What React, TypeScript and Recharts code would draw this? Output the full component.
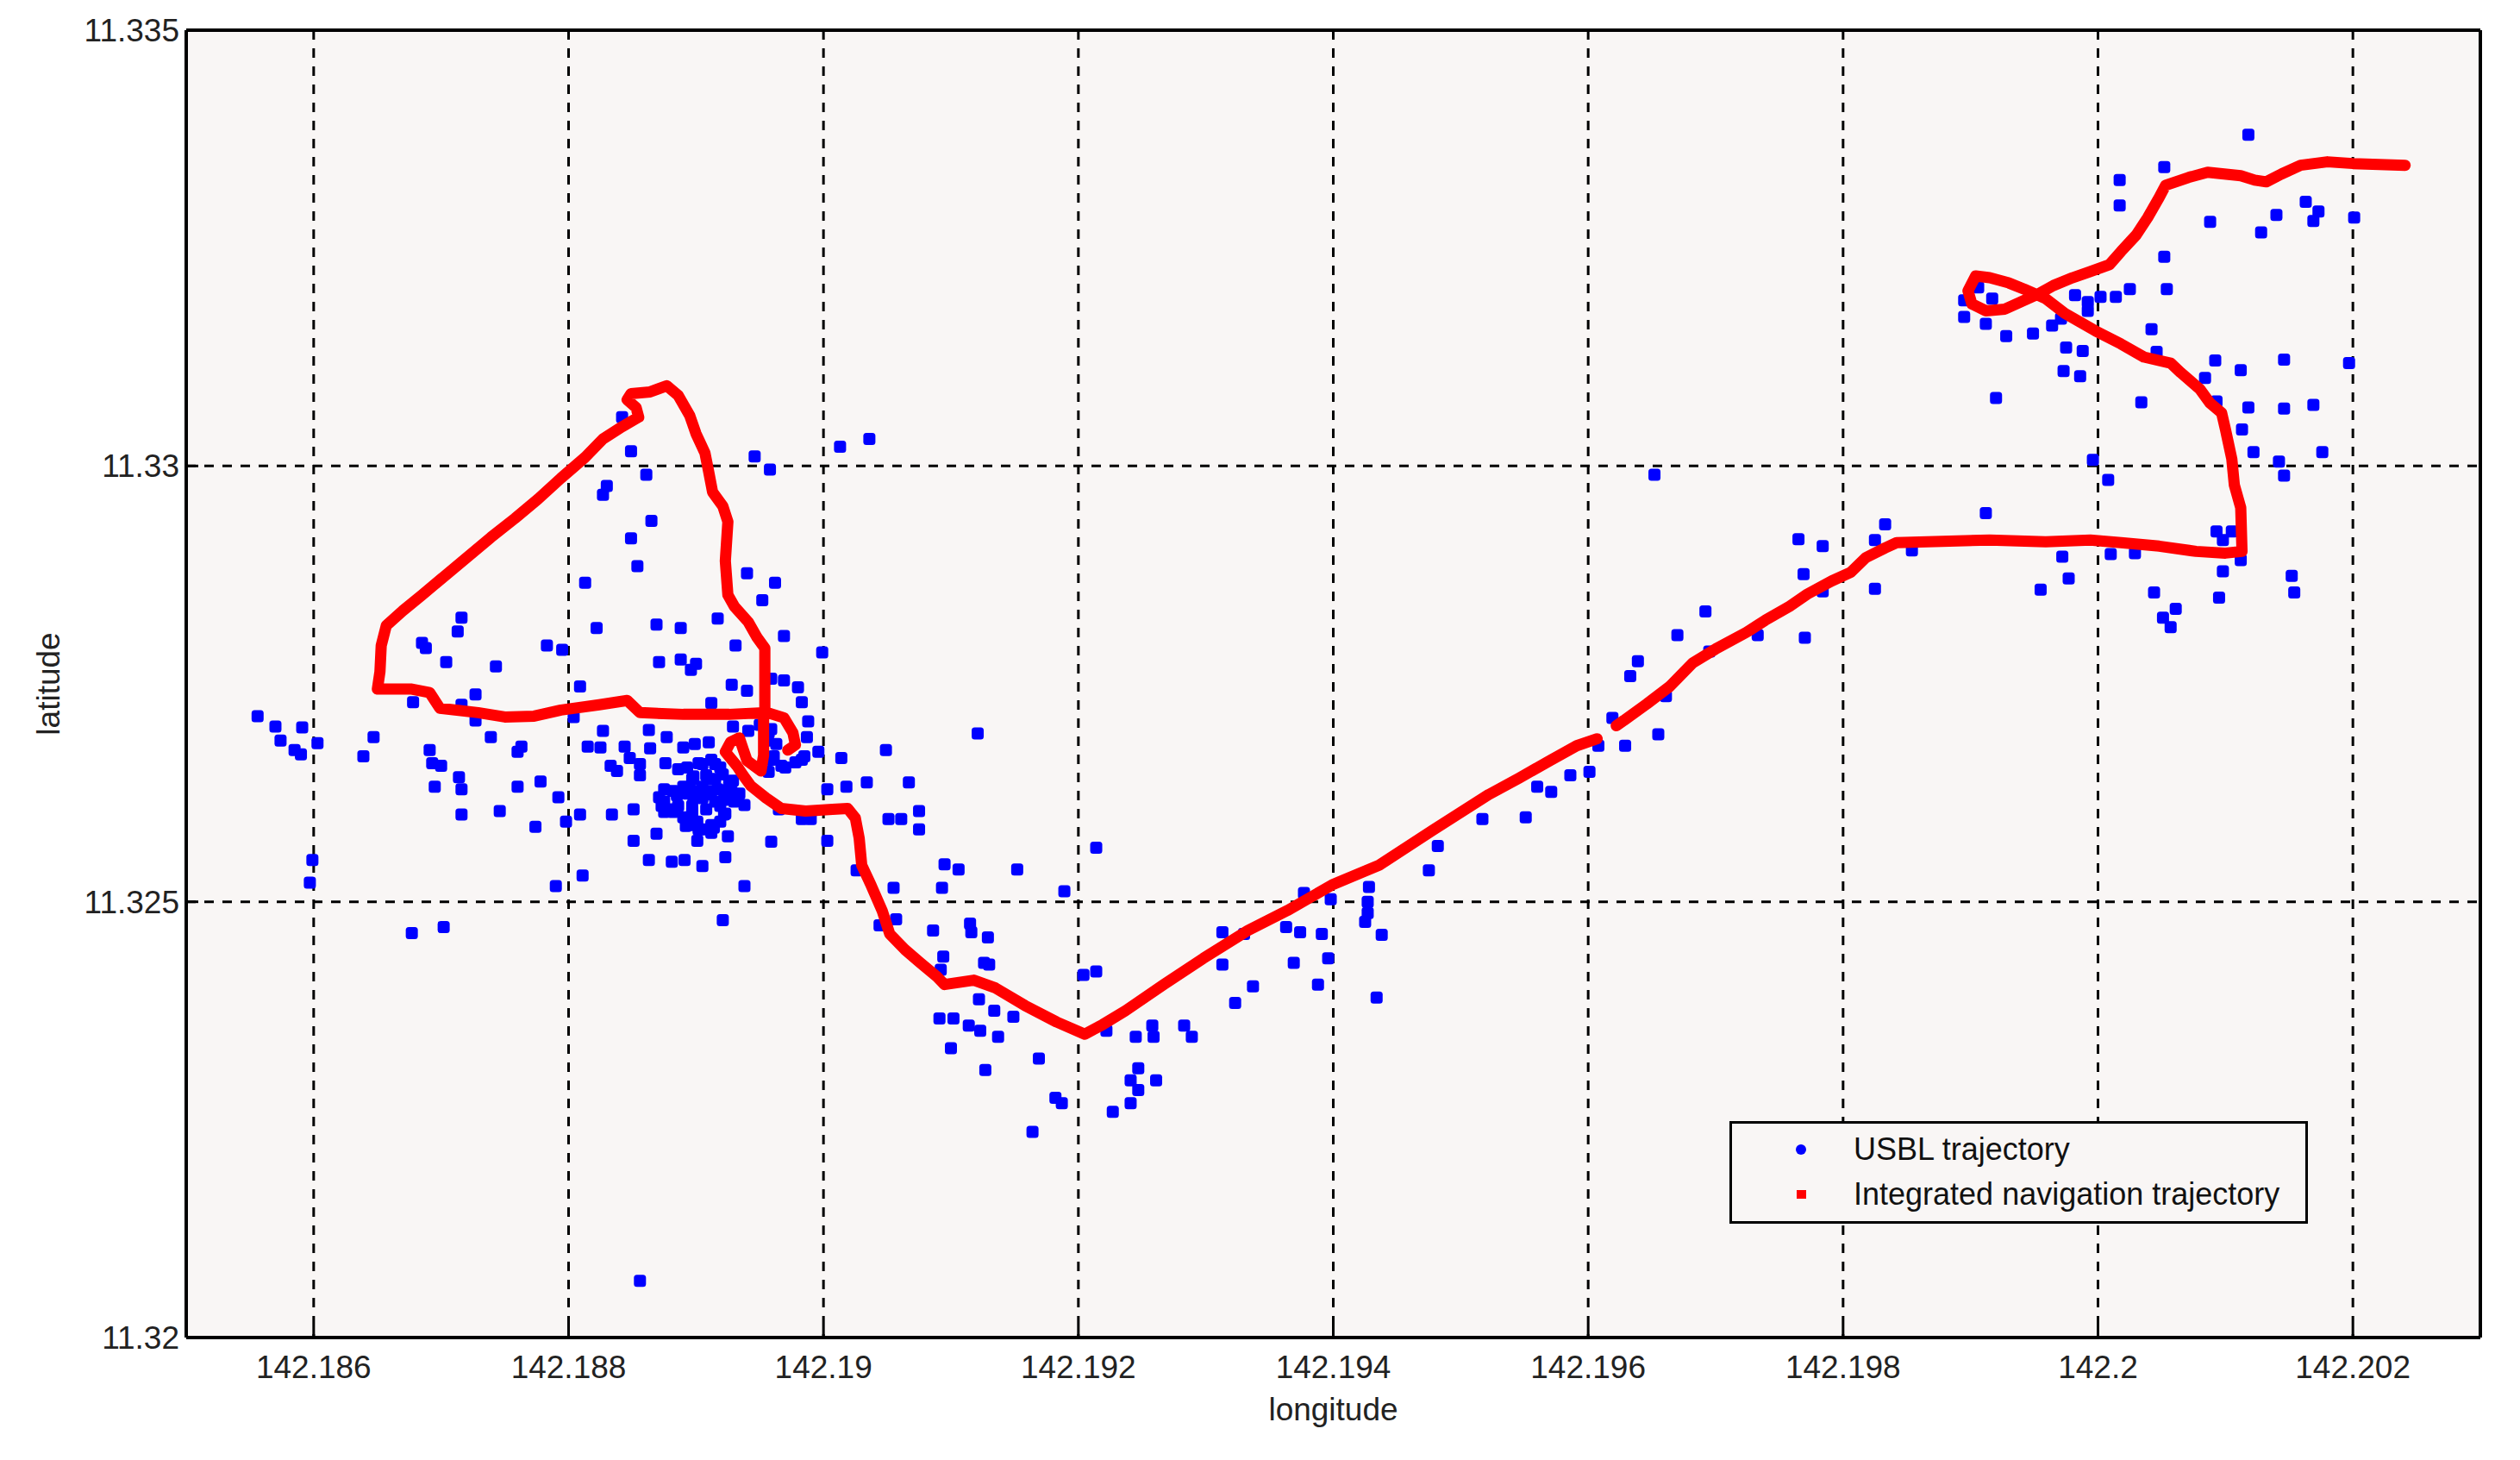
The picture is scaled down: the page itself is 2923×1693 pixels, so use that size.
import React from "react";
import { ComposedChart, Scatter, XAxis, YAxis, CartesianGrid, Legend, Label } from "recharts";

const X_DOMAIN = [142.185, 142.203];
const Y_DOMAIN = [11.32, 11.335];
const X_TICKS = [142.186, 142.188, 142.19, 142.192, 142.194, 142.196, 142.198, 142.2, 142.202];
const Y_TICKS = [11.32, 11.325, 11.33, 11.335];

// USBL fixes, [longitude, latitude]
const USBL: [number, number][] = [
  [142.18842, 11.33056], [142.18849, 11.33017], [142.19013, 11.33022], [142.19036, 11.33031],
  [142.18946, 11.33011], [142.18958, 11.32996], [142.18861, 11.3299], [142.1883, 11.32977],
  [142.18827, 11.32967], [142.18865, 11.32937], [142.18849, 11.32917], [142.18854, 11.32885],
  [142.18813, 11.32866], [142.1894, 11.32877], [142.18962, 11.32866], [142.18952, 11.32846],
  [142.18917, 11.32825], [142.18969, 11.32805], [142.18716, 11.32826], [142.18713, 11.3281],
  [142.18822, 11.32814], [142.18869, 11.32818], [142.18888, 11.32814], [142.18931, 11.32794],
  [142.18999, 11.32786], [142.18685, 11.32797], [142.18688, 11.32791], [142.18783, 11.32794],
  [142.18795, 11.32789], [142.18704, 11.32775], [142.18743, 11.3277], [142.18871, 11.32775],
  [142.18888, 11.32778], [142.189, 11.32773], [142.18896, 11.32766], [142.18809, 11.32747],
  [142.18928, 11.32749], [142.1894, 11.32742], [142.18959, 11.32756], [142.18969, 11.32754],
  [142.1898, 11.32746], [142.18727, 11.32738], [142.18678, 11.32729], [142.18983, 11.32729],
  [142.18716, 11.32726], [142.18912, 11.32728], [142.18804, 11.32712], [142.18727, 11.32708],
  [142.18988, 11.32707], [142.18556, 11.32713], [142.1857, 11.32701], [142.18591, 11.327],
  [142.18574, 11.32685], [142.18585, 11.32674], [142.1859, 11.32669], [142.18603, 11.32682],
  [142.18647, 11.32689], [142.18639, 11.32667], [142.18739, 11.32689], [142.18763, 11.32678],
  [142.1876, 11.32672], [142.18691, 11.32674], [142.18693, 11.32659], [142.187, 11.32656],
  [142.18827, 11.32696], [142.18863, 11.32697], [142.18877, 11.32689], [142.18929, 11.32701],
  [142.18941, 11.32696], [142.18957, 11.32694], [142.18987, 11.32689], [142.18815, 11.32678],
  [142.18825, 11.32677], [142.18844, 11.32678], [142.18864, 11.32676], [142.1889, 11.32677],
  [142.18899, 11.32681], [142.1891, 11.32683], [142.18996, 11.32672], [142.19014, 11.32665],
  [142.19049, 11.32674], [142.18848, 11.32665], [142.18856, 11.32658], [142.18876, 11.32659],
  [142.18886, 11.32652], [142.18833, 11.32656], [142.18838, 11.3265], [142.18856, 11.32645],
  [142.18967, 11.32656], [142.18983, 11.32663], [142.18959, 11.32663], [142.18714, 11.32643],
  [142.18716, 11.32629], [142.18695, 11.32632], [142.1876, 11.32632], [142.18778, 11.32638],
  [142.18792, 11.3262], [142.19003, 11.32629], [142.19018, 11.32632], [142.19034, 11.32637],
  [142.19067, 11.32637], [142.18716, 11.326], [142.18746, 11.32604], [142.18809, 11.326],
  [142.18798, 11.32592], [142.18834, 11.326], [142.18851, 11.32606], [142.18774, 11.32586],
  [142.18938, 11.32611], [142.18965, 11.32606], [142.18983, 11.32595], [142.1899, 11.32595],
  [142.19051, 11.32595], [142.19061, 11.32595], [142.19075, 11.32604], [142.19075, 11.32583],
  [142.18851, 11.3257], [142.18869, 11.32578], [142.18901, 11.3257], [142.18925, 11.32575],
  [142.18959, 11.32569], [142.19003, 11.3257], [142.18863, 11.32548], [142.18881, 11.32546],
  [142.18891, 11.32548], [142.18905, 11.32541], [142.18923, 11.32551], [142.18599, 11.32548],
  [142.18597, 11.32522], [142.18811, 11.3253], [142.1879, 11.32518], [142.18938, 11.32518],
  [142.19026, 11.32536], [142.19055, 11.32516], [142.19093, 11.32516], [142.19095, 11.32543],
  [142.18921, 11.32479], [142.18702, 11.32471], [142.18677, 11.32464], [142.19086, 11.32467],
  [142.19044, 11.32473], [142.19057, 11.3248], [142.18856, 11.32065],
  // dense cluster
  [142.18893, 11.32654], [142.18905, 11.32658], [142.18912, 11.32663], [142.18919, 11.32654],
  [142.18897, 11.32641], [142.18908, 11.32645], [142.18915, 11.32641], [142.18926, 11.32636],
  [142.189, 11.32627], [142.18912, 11.32627], [142.18923, 11.32627], [142.18893, 11.32624],
  [142.18905, 11.32619], [142.18915, 11.32615], [142.18882, 11.32627], [142.18875, 11.32615],
  [142.18886, 11.3261], [142.18897, 11.3261], [142.18908, 11.32606], [142.18919, 11.3261],
  [142.18923, 11.32601], [142.18879, 11.32606], [142.1889, 11.32597], [142.18901, 11.32592],
  [142.18912, 11.32588], [142.18919, 11.32592], [142.18905, 11.32583], [142.18897, 11.32603],
  [142.18912, 11.32579], [142.1893, 11.32615], [142.18934, 11.32624], [142.1889, 11.32632],
  [142.18875, 11.32603], [142.18895, 11.32588],
  [142.18902, 11.32659], [142.18915, 11.32658], [142.18898, 11.32644], [142.18909, 11.32641],
  [142.18921, 11.32646], [142.18929, 11.32639], [142.18895, 11.32629], [142.18905, 11.32632],
  [142.18917, 11.32629], [142.18928, 11.32626], [142.18875, 11.32629], [142.18885, 11.32622],
  [142.18898, 11.3262], [142.1891, 11.32623], [142.18922, 11.32617], [142.18932, 11.3262],
  [142.18873, 11.3261], [142.18882, 11.32603], [142.18897, 11.326], [142.18922, 11.326],
  [142.18892, 11.32587], [142.18902, 11.32583], [142.18914, 11.32585], [142.18871, 11.3262],
  [142.1895, 11.32703], [142.18959, 11.32698], [142.18956, 11.32685], [142.18963, 11.32681],
  [142.18961, 11.32667], [142.1897, 11.32654], [142.18978, 11.3266], [142.18985, 11.32667],
  [142.18957, 11.32649],
  // south-east of the cluster
  [142.19121, 11.32693], [142.19214, 11.32562], [142.19106, 11.32537], [142.19152, 11.32537],
  [142.19189, 11.32512], [142.19115, 11.32475], [142.19116, 11.32465], [142.19129, 11.32459],
  [142.19094, 11.32437], [142.19092, 11.32422], [142.19126, 11.3243], [142.1913, 11.32428],
  [142.19204, 11.32416], [142.19214, 11.3242], [142.19122, 11.32388], [142.19134, 11.32375],
  [142.19149, 11.32368], [142.19091, 11.32366], [142.19102, 11.32366], [142.19114, 11.32358],
  [142.19123, 11.32352], [142.19137, 11.32345], [142.19222, 11.32352], [142.19245, 11.32345],
  [142.19258, 11.32358], [142.19259, 11.32345], [142.19283, 11.32358], [142.19289, 11.32345],
  [142.191, 11.32332], [142.19169, 11.3232], [142.19127, 11.32307], [142.19247, 11.32309],
  [142.19241, 11.32295], [142.19261, 11.32295], [142.19247, 11.32284], [142.19182, 11.32275],
  [142.19187, 11.32269], [142.19241, 11.32269], [142.19227, 11.32259], [142.19164, 11.32236],
  [142.19313, 11.32465], [142.1933, 11.32463], [142.19313, 11.32428], [142.19337, 11.32403],
  [142.19323, 11.32384], [142.19363, 11.32471], [142.19369, 11.3243],
  [142.19374, 11.32465], [142.19391, 11.32463], [142.19396, 11.32435], [142.19388, 11.32405],
  [142.19377, 11.3251], [142.19398, 11.32503], [142.19428, 11.32517], [142.19427, 11.325],
  [142.19427, 11.32487], [142.19425, 11.32477], [142.19438, 11.32462], [142.19434, 11.3239],
  [142.19475, 11.32536], [142.19482, 11.32564], [142.19517, 11.32595], [142.19551, 11.32597],
  [142.1956, 11.32632],
  // middle leg
  [142.19652, 11.3299], [142.19765, 11.32916], [142.19784, 11.32908], [142.19833, 11.32933],
  [142.19825, 11.32915], [142.19854, 11.32903], [142.19912, 11.32946], [142.19972, 11.32896],
  [142.19977, 11.32871], [142.19955, 11.32858], [142.19769, 11.32876], [142.19825, 11.32859],
  [142.19784, 11.32856], [142.19692, 11.32833], [142.1967, 11.32806], [142.1977, 11.32803],
  [142.19733, 11.32806], [142.19695, 11.32787], [142.19639, 11.32776], [142.19633, 11.32759],
  [142.19619, 11.32711], [142.19661, 11.32736], [142.19655, 11.32692], [142.19629, 11.32679],
  [142.19608, 11.32679], [142.19601, 11.32649], [142.19586, 11.32645], [142.19571, 11.32626],
  // north-east area
  [142.20118, 11.3338], [142.20052, 11.33343], [142.20017, 11.33328], [142.20017, 11.33299],
  [142.20088, 11.3328], [142.20128, 11.33268], [142.2014, 11.33288], [142.20163, 11.33303],
  [142.20173, 11.33292], [142.20169, 11.33281], [142.20201, 11.33285], [142.20052, 11.3324],
  [142.20054, 11.33203], [142.20025, 11.33203], [142.20014, 11.33194], [142.20002, 11.33194],
  [142.19992, 11.33188], [142.19992, 11.33178], [142.19982, 11.33196], [142.19906, 11.33205],
  [142.19917, 11.33192], [142.19895, 11.3319], [142.19895, 11.33171], [142.19912, 11.33163],
  [142.19928, 11.33149], [142.19949, 11.33152], [142.19964, 11.33161], [142.19971, 11.33169],
  [142.19975, 11.33136], [142.19988, 11.33132], [142.19973, 11.33109], [142.19986, 11.33103],
  [142.1992, 11.33078], [142.20042, 11.33157], [142.20046, 11.33131], [142.20034, 11.33073],
  [142.20092, 11.33121], [142.20112, 11.3311], [142.20084, 11.33101], [142.20093, 11.33074],
  [142.20118, 11.33067], [142.20146, 11.33122], [142.20197, 11.33118], [142.20146, 11.33066],
  [142.20169, 11.3307], [142.20113, 11.33042], [142.20122, 11.33016], [142.20176, 11.33016],
  [142.20142, 11.33005], [142.20146, 11.32989], [142.19996, 11.33007], [142.20008, 11.32984],
  [142.20093, 11.32925], [142.20105, 11.32925], [142.20098, 11.32915], [142.20112, 11.32892],
  [142.20098, 11.32879], [142.20152, 11.32874], [142.20154, 11.32855], [142.20095, 11.32849],
  [142.20044, 11.32855], [142.20061, 11.32836], [142.20051, 11.32826], [142.20057, 11.32815],
  [142.2001, 11.32899], [142.20029, 11.329],
];

// integrated navigation track, east part up to the small gap
const NAV_EAST: [number, number][] = [
  [142.20241, 11.33345], [142.202, 11.33347], [142.2018, 11.33349], [142.20159, 11.33345],
  [142.20144, 11.33335], [142.20132, 11.33326], [142.20123, 11.33328], [142.20112, 11.33333],
  [142.20086, 11.33337], [142.20071, 11.33331], [142.20053, 11.33322], [142.20048, 11.33308],
  [142.20039, 11.33285], [142.2003, 11.33265], [142.20018, 11.33246], [142.20009, 11.33231],
  [142.19994, 11.33223], [142.1998, 11.33216], [142.19965, 11.33207], [142.19954, 11.33198],
  [142.19939, 11.33188], [142.19927, 11.3318], [142.19912, 11.33178], [142.19901, 11.33186],
  [142.19898, 11.33201], [142.19904, 11.33218], [142.19915, 11.33216], [142.1993, 11.3321],
  [142.19942, 11.33203], [142.19959, 11.33192], [142.19974, 11.33175], [142.19998, 11.33155],
  [142.20018, 11.3314], [142.20036, 11.33125], [142.20057, 11.33118], [142.20065, 11.33107],
  [142.2008, 11.33088], [142.20088, 11.33072], [142.20097, 11.33061], [142.201, 11.33042],
  [142.20105, 11.33008], [142.20107, 11.32978], [142.20112, 11.32952], [142.20113, 11.32902],
  [142.201, 11.329], [142.20077, 11.32902], [142.20048, 11.32908], [142.20018, 11.32912],
  [142.19994, 11.32915], [142.19959, 11.32913], [142.19915, 11.32915], [142.19842, 11.32912],
  [142.19833, 11.32906], [142.19818, 11.32895], [142.19806, 11.32878], [142.19791, 11.32868],
  [142.19772, 11.32853], [142.19758, 11.32839], [142.19739, 11.32823], [142.19724, 11.32809],
  [142.197, 11.3279], [142.19682, 11.32774], [142.19664, 11.32747], [142.19646, 11.32727],
  [142.19628, 11.32708], [142.19622, 11.32702],
];

// rest of the track, from the gap back to the start area
const NAV_WEST: [number, number][] = [
  [142.19607, 11.32687], [142.19591, 11.32679], [142.1957, 11.32662], [142.19546, 11.32642],
  [142.19522, 11.32623], [142.19478, 11.32582], [142.19436, 11.32542], [142.194, 11.3252],
  [142.19364, 11.3249], [142.19333, 11.32467], [142.19298, 11.32435], [142.19267, 11.32405],
  [142.19237, 11.32375], [142.19219, 11.32359], [142.19205, 11.32348], [142.19183, 11.32362],
  [142.19158, 11.32381], [142.19135, 11.32401], [142.19118, 11.3241], [142.19095, 11.32405],
  [142.19089, 11.32414], [142.19076, 11.3243], [142.19064, 11.32445], [142.19052, 11.32463],
  [142.19046, 11.3249], [142.19037, 11.3252], [142.1903, 11.32542], [142.19028, 11.32573],
  [142.19025, 11.32596], [142.19019, 11.32607], [142.19007, 11.32606], [142.18986, 11.32604],
  [142.18967, 11.32607], [142.18955, 11.32619], [142.18943, 11.32633], [142.18937, 11.32645],
  [142.18932, 11.32656], [142.18923, 11.32672], [142.18927, 11.32683], [142.18934, 11.32688],
  [142.18937, 11.32675], [142.1894, 11.32662], [142.18951, 11.3265], [142.18953, 11.32668],
  [142.18953, 11.32716], [142.18954, 11.32722], [142.18954, 11.32791], [142.18948, 11.32803],
  [142.18941, 11.32821], [142.1893, 11.32839], [142.18925, 11.32852], [142.18923, 11.32891],
  [142.18925, 11.32936], [142.18921, 11.32954], [142.18913, 11.3297], [142.1891, 11.32993],
  [142.18907, 11.33015], [142.189, 11.33037], [142.18895, 11.33058], [142.18886, 11.33081],
  [142.18877, 11.33092], [142.18864, 11.33085], [142.18849, 11.33083], [142.18846, 11.33076],
  [142.18853, 11.33067], [142.18855, 11.33056], [142.18842, 11.33045], [142.18827, 11.33031],
  [142.18813, 11.3301], [142.18794, 11.32986], [142.18776, 11.32962], [142.18758, 11.3294],
  [142.18739, 11.32918], [142.18721, 11.32896], [142.18703, 11.32874], [142.18685, 11.32852],
  [142.1867, 11.32834], [142.18657, 11.32817], [142.18653, 11.32794], [142.18652, 11.32764],
  [142.1865, 11.32744], [142.18677, 11.32744], [142.18691, 11.3274], [142.18699, 11.32722],
  [142.18729, 11.32717], [142.1875, 11.32712], [142.18773, 11.32713], [142.18794, 11.3272],
  [142.18824, 11.32726], [142.18846, 11.32731], [142.18856, 11.32717], [142.1889, 11.32715],
  [142.18926, 11.32715], [142.18956, 11.32717], [142.18969, 11.32711], [142.18976, 11.32694],
  [142.18978, 11.3268], [142.18972, 11.32674],
];

const BLUE = "#0000ff";
const RED = "#ff0000";
const BG = "#f9f6f5";
const FONT = '"Liberation Sans", Arial, Helvetica, sans-serif';

const toPoints = (rows: [number, number][]) => rows.map(([lon, lat]) => ({ lon, lat }));

// MATLAB-like "." marker: a chunky rounded square
const BlueDot = (props: any) => (
  <rect x={props.cx - 7} y={props.cy - 7} width={14} height={14} rx={3.5} fill={BLUE} />
);
const NoDot = () => <g />;

const navLine = { stroke: RED, strokeWidth: 13, strokeLinejoin: "round", strokeLinecap: "round" };

function LegendBox() {
  return (
    <div
      style={{
        width: 671,
        height: 119,
        boxSizing: "border-box",
        border: "3px solid #000",
        background: BG,
        fontFamily: FONT,
        fontSize: 36,
        color: "#111",
        position: "relative",
      }}
    >
      <div style={{ position: "absolute", left: 74, top: 24, width: 12, height: 12, borderRadius: 6, background: BLUE }} />
      <div style={{ position: "absolute", left: 141, top: 10, lineHeight: "40px" }}>USBL trajectory</div>
      <div style={{ position: "absolute", left: 75, top: 77, width: 11, height: 10, background: RED }} />
      <div style={{ position: "absolute", left: 141, top: 62, lineHeight: "40px" }}>Integrated navigation trajectory</div>
    </div>
  );
}

export default function App() {
  const usbl = toPoints(USBL);
  const east = toPoints(NAV_EAST);
  const west = toPoints(NAV_WEST);
  const tickStyle = { fill: "#222", fontSize: 37, fontFamily: FONT };
  const axisLine = { stroke: "#000", strokeWidth: 4 };
  const tickLine = { stroke: "#000", strokeWidth: 3 };

  return (
    <div style={{ width: 2923, height: 1693, background: "#fff" }}>
      <style>{"body{margin:0;background:#fff}"}</style>
      <ComposedChart width={2923} height={1693} margin={{ top: 34, right: 45, bottom: 42, left: 16 }}>
        <CartesianGrid stroke="#000" strokeWidth={3} strokeDasharray="11 10" fill={BG} fillOpacity={1} />
        <XAxis
          dataKey="lon"
          type="number"
          domain={X_DOMAIN}
          ticks={X_TICKS}
          interval={0}
          allowDataOverflow
          height={100}
          tickSize={-14}
          tickMargin={35}
          axisLine={axisLine}
          tickLine={tickLine}
          tick={tickStyle}
        >
          <Label value="longitude" position="insideBottom" offset={4} fill="#222" fontSize={37} fontFamily={FONT} />
        </XAxis>
        <XAxis
          xAxisId="top"
          orientation="top"
          dataKey="lon"
          type="number"
          domain={X_DOMAIN}
          ticks={X_TICKS}
          interval={0}
          allowDataOverflow
          height={1}
          tick={false}
          tickSize={-14}
          axisLine={axisLine}
          tickLine={tickLine}
        />
        <YAxis
          dataKey="lat"
          type="number"
          domain={Y_DOMAIN}
          ticks={Y_TICKS}
          interval={0}
          allowDataOverflow
          width={200}
          tickSize={-14}
          tickMargin={22}
          axisLine={axisLine}
          tickLine={tickLine}
          tick={tickStyle}
        >
          <Label
            value="latitude"
            angle={-90}
            position="insideLeft"
            offset={40}
            fill="#222"
            fontSize={37}
            fontFamily={FONT}
            style={{ textAnchor: "middle" }}
          />
        </YAxis>
        <YAxis
          yAxisId="right"
          orientation="right"
          dataKey="lat"
          type="number"
          domain={Y_DOMAIN}
          ticks={Y_TICKS}
          interval={0}
          allowDataOverflow
          width={1}
          tick={false}
          tickSize={-14}
          axisLine={axisLine}
          tickLine={tickLine}
        />
        <Scatter name="USBL trajectory" data={usbl} fill={BLUE} shape={BlueDot} isAnimationActive={false} />
        <Scatter
          name="Integrated navigation trajectory"
          data={east}
          fill={RED}
          line={navLine}
          lineJointType="linear"
          shape={NoDot}
          isAnimationActive={false}
        />
        <Scatter
          name="nav-west"
          data={west}
          fill={RED}
          line={navLine}
          lineJointType="linear"
          shape={NoDot}
          legendType="none"
          isAnimationActive={false}
        />
        <Legend
          layout="vertical"
          align="center"
          verticalAlign="middle"
          wrapperStyle={{ left: 2006, top: 1300, width: 671, height: 119 }}
          content={() => <LegendBox />}
        />
      </ComposedChart>
    </div>
  );
}
